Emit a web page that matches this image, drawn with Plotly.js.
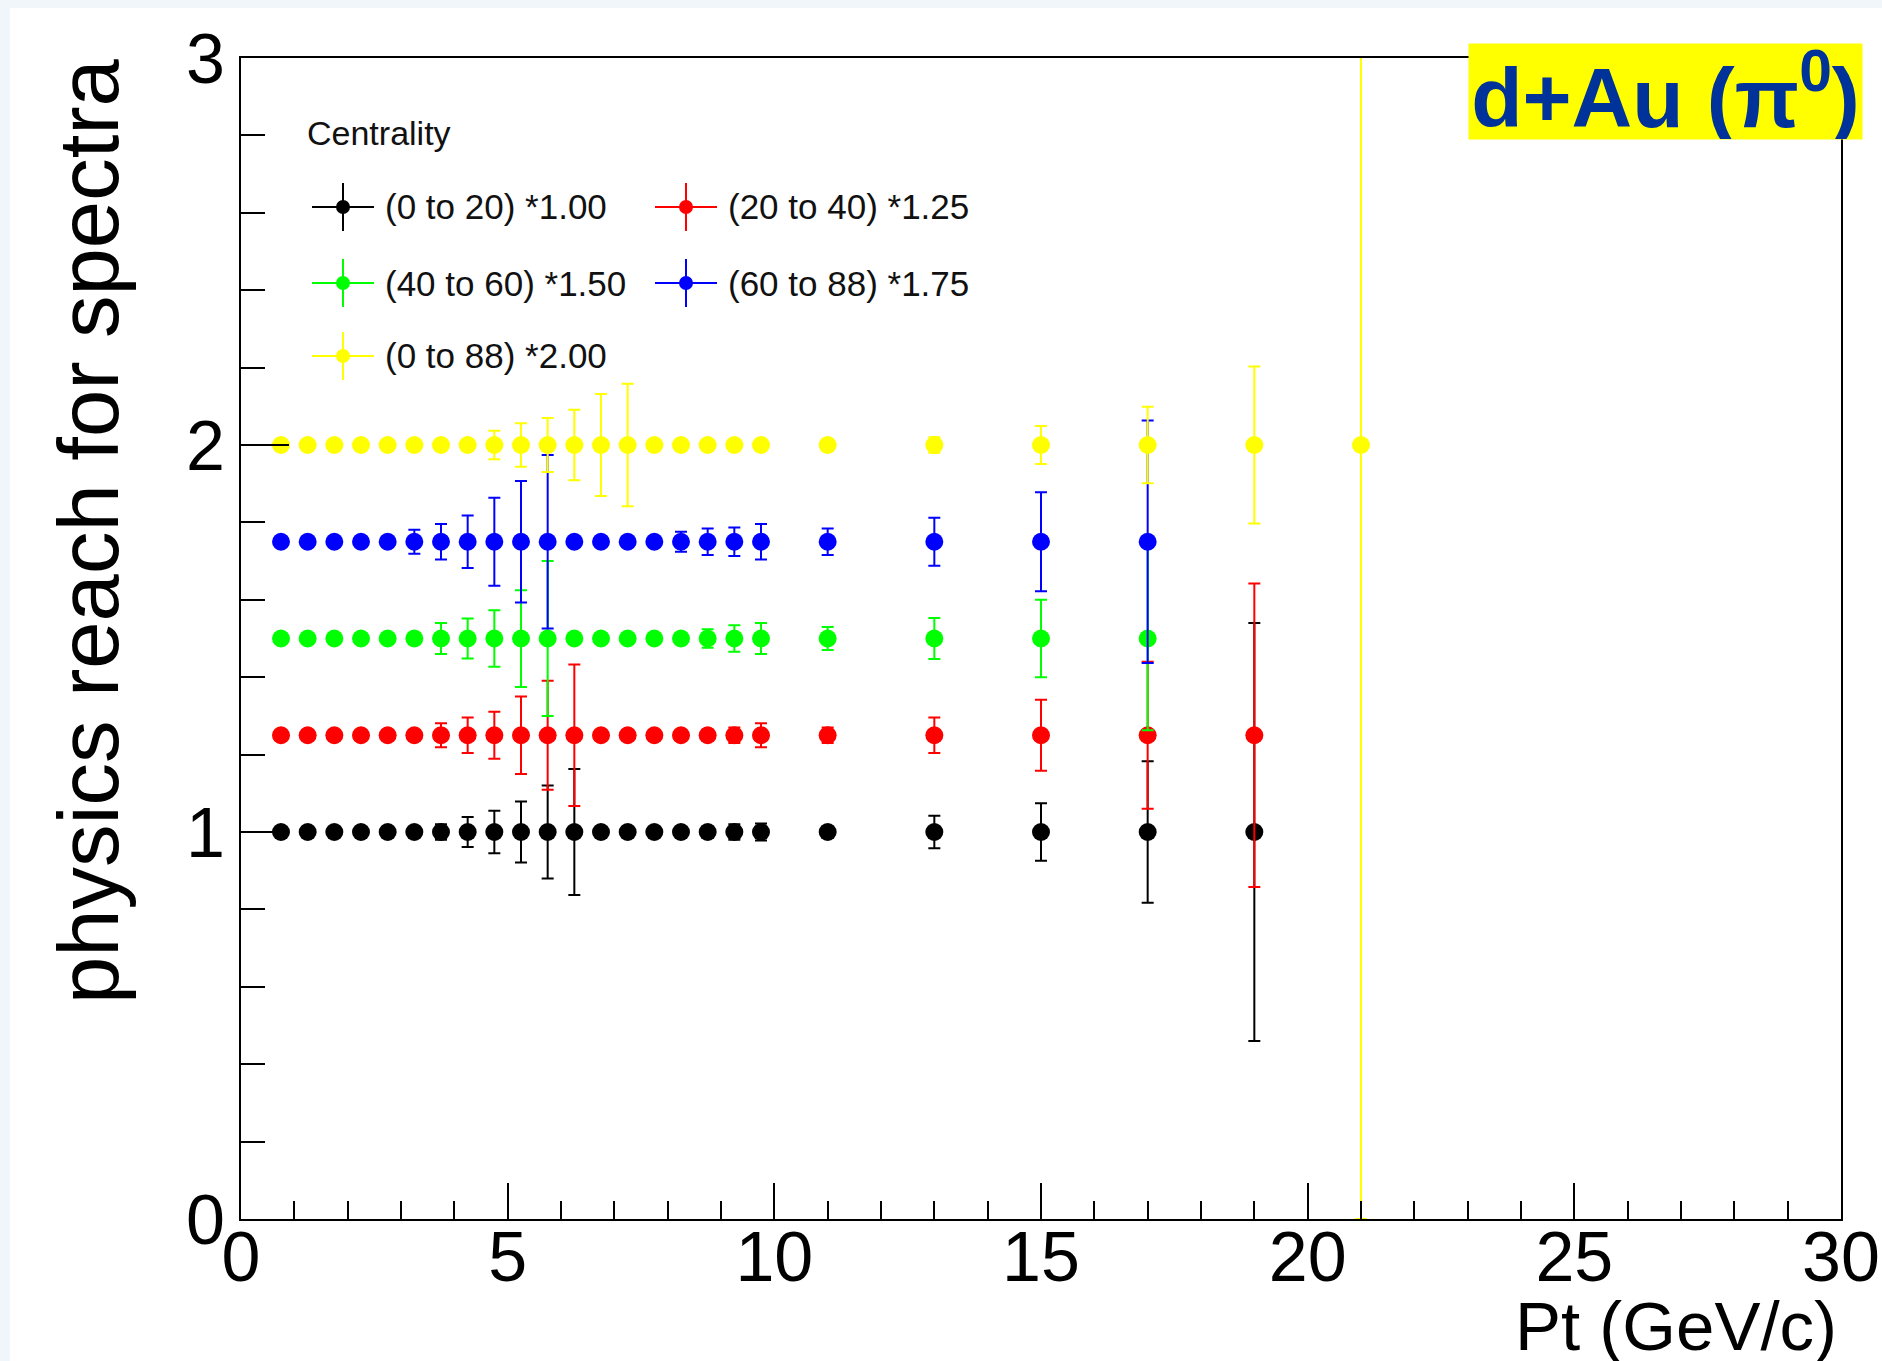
<!DOCTYPE html>
<html>
<head>
<meta charset="utf-8">
<script src="https://cdn.plot.ly/plotly-3.0.1.min.js"></script>
<style>
  html, body { margin: 0; padding: 0; background: #ffffff; }
  #chart { width: 1882px; height: 1361px; }
</style>
</head>
<body>
<div id="chart"></div>
<script>
// ---------------- DATA ----------------
const seriesNames = ["(0 to 20) *1.00", "(20 to 40) *1.25", "(40 to 60) *1.50", "(60 to 88) *1.75", "(0 to 88) *2.00"];
const seriesColors = ["#000000", "#ff0000", "#00ff00", "#0000ff", "#ffff00"];

const ptBlack  = [0.75,1.25,1.75,2.25,2.75,3.25,3.75,4.25,4.75,5.25,5.75,6.25,6.75,7.25,7.75,8.25,8.75,9.25,9.75,11,13,15,17,19];
const valBlack = [1,1,1,1,1,1,1,1,1,1,1,1,1,1,1,1,1,1,1,1,1,1,1,1];
const errBlack = [0.008,0.008,0.008,0.009,0.01,0.012,0.02,0.039,0.055,0.079,0.12,0.163,0.01,0.01,0.01,0.012,0.015,0.02,0.022,0.015,0.042,0.074,0.183,0.54];

const ptRed  = [0.75,1.25,1.75,2.25,2.75,3.25,3.75,4.25,4.75,5.25,5.75,6.25,6.75,7.25,7.75,8.25,8.75,9.25,9.75,11,13,15,17,19];
const valRed = [1.25,1.25,1.25,1.25,1.25,1.25,1.25,1.25,1.25,1.25,1.25,1.25,1.25,1.25,1.25,1.25,1.25,1.25,1.25,1.25,1.25,1.25,1.25,1.25];
const errRed = [0.01,0.01,0.01,0.01,0.01,0.012,0.031,0.046,0.061,0.10,0.141,0.183,0.01,0.01,0.01,0.01,0.015,0.02,0.031,0.02,0.046,0.092,0.19,0.392];

const ptGreen  = [0.75,1.25,1.75,2.25,2.75,3.25,3.75,4.25,4.75,5.25,5.75,6.25,6.75,7.25,7.75,8.25,8.75,9.25,9.75,11,13,15,17];
const valGreen = [1.5,1.5,1.5,1.5,1.5,1.5,1.5,1.5,1.5,1.5,1.5,1.5,1.5,1.5,1.5,1.5,1.5,1.5,1.5,1.5,1.5,1.5,1.5];
const errGreen = [0.01,0.01,0.01,0.01,0.01,0.015,0.04,0.052,0.073,0.125,0.2,0.01,0.01,0.01,0.01,0.015,0.024,0.034,0.04,0.03,0.053,0.10,0.237];

const ptBlue  = [0.75,1.25,1.75,2.25,2.75,3.25,3.75,4.25,4.75,5.25,5.75,6.25,6.75,7.25,7.75,8.25,8.75,9.25,9.75,11,13,15,17];
const valBlue = [1.75,1.75,1.75,1.75,1.75,1.75,1.75,1.75,1.75,1.75,1.75,1.75,1.75,1.75,1.75,1.75,1.75,1.75,1.75,1.75,1.75,1.75,1.75];
const errBlue = [0.01,0.01,0.01,0.01,0.01,0.031,0.046,0.068,0.114,0.157,0.224,0.01,0.01,0.01,0.01,0.026,0.034,0.037,0.046,0.034,0.062,0.128,0.313];

const ptYellow  = [0.75,1.25,1.75,2.25,2.75,3.25,3.75,4.25,4.75,5.25,5.75,6.25,6.75,7.25,7.75,8.25,8.75,9.25,9.75,11,13,15,17,19,21];
const valYellow = [2,2,2,2,2,2,2,2,2,2,2,2,2,2,2,2,2,2,2,2,2,2,2,2,2];
const errYellow = [0.01,0.01,0.01,0.01,0.01,0.01,0.01,0.015,0.037,0.056,0.07,0.091,0.132,0.158,0.01,0.01,0.01,0.01,0.01,0.015,0.02,0.049,0.099,0.203,2.0];

const xTickVals = [0, 5, 10, 15, 20, 25, 30];
const yTickVals = [0, 1, 2, 3];

const chartTitle = "<b>d+Au (π<sup>0</sup>)</b>";
const xTitle = "Pt (GeV/c)";
const yTitle = "physics reach for spectra";
const legendTitle = "Centrality";

// ---------------- GEOMETRY (pixels) ----------------
const W = 1882, H = 1361;
const PL = 241, PR = 1841, PT = 58, PB = 1219;
const px = x => (x - PL) / (PR - PL);
const py = y => (PB - y) / (PB - PT);

const FONT = '"Liberation Sans", Arial, Helvetica, sans-serif';

const xs = [ptBlack, ptRed, ptGreen, ptBlue, ptYellow];
const ys = [valBlack, valRed, valGreen, valBlue, valYellow];
const es = [errBlack, errRed, errGreen, errBlue, errYellow];

const traces = xs.map((x, i) => ({
  type: 'scatter',
  mode: 'markers',
  name: seriesNames[i],
  x: x,
  y: ys[i],
  error_y: { type: 'data', array: es[i], visible: true, color: seriesColors[i], thickness: 2, width: 6 },
  marker: { color: seriesColors[i], size: 18, line: { width: 0 } },
  showlegend: false,
  hoverinfo: 'x+y+name'
}));

// ---------------- manual ROOT-style legend ----------------
const legendCols = [343, 686, 343, 686, 343];
const legendRows = [207, 207, 283, 283, 356];
const shapes = [];
const annotations = [];

// light slide border
shapes.push({ type: 'rect', xref: 'paper', yref: 'paper', layer: 'below',
  x0: px(0), x1: px(10), y0: py(H), y1: py(0), fillcolor: '#f1f6fa', line: { width: 0 } });
shapes.push({ type: 'rect', xref: 'paper', yref: 'paper', layer: 'below',
  x0: px(0), x1: px(W), y0: py(8), y1: py(0), fillcolor: '#f1f6fa', line: { width: 0 } });

seriesNames.forEach((nm, i) => {
  const cx = legendCols[i], cy = legendRows[i], c = seriesColors[i];
  shapes.push({ type: 'line', xref: 'paper', yref: 'paper', x0: px(cx - 31), x1: px(cx + 31), y0: py(cy), y1: py(cy), line: { color: c, width: 2 } });
  shapes.push({ type: 'line', xref: 'paper', yref: 'paper', x0: px(cx), x1: px(cx), y0: py(cy - 24), y1: py(cy + 24), line: { color: c, width: 2 } });
  shapes.push({ type: 'circle', xref: 'paper', yref: 'paper', x0: px(cx - 7), x1: px(cx + 7), y0: py(cy + 7), y1: py(cy - 7), fillcolor: c, line: { color: c, width: 0 } });
  annotations.push({ xref: 'paper', yref: 'paper', x: px(cx + 40), y: py(cy), xanchor: 'left', yanchor: 'middle',
    text: nm, showarrow: false, font: { family: FONT, size: 35, color: '#111' } });
});

annotations.push({ xref: 'paper', yref: 'paper', x: px(305), y: py(133), xanchor: 'left', yanchor: 'middle',
  text: legendTitle, showarrow: false, font: { family: FONT, size: 34, color: '#111' } });

// chart label box
annotations.push({ xref: 'paper', yref: 'paper', x: px(1863), y: py(43), xanchor: 'right', yanchor: 'top',
  text: chartTitle, showarrow: false, bgcolor: '#ffff00', borderpad: 0, width: 393, height: 95,
  font: { family: FONT, size: 84, color: '#003399' } });

// axis titles
annotations.push({ xref: 'paper', yref: 'paper', x: px(1839), y: py(1326), xanchor: 'right', yanchor: 'middle',
  text: xTitle, showarrow: false, font: { family: FONT, size: 69, color: '#000' } });
annotations.push({ xref: 'paper', yref: 'paper', x: px(88), y: py(531), xanchor: 'center', yanchor: 'middle',
  text: yTitle, textangle: -90, showarrow: false, font: { family: FONT, size: 85, color: '#000' } });

const layout = {
  width: W, height: H,
  margin: { l: PL, r: W - PR, t: PT, b: H - PB, pad: 0 },
  paper_bgcolor: '#ffffff', plot_bgcolor: '#ffffff',
  showlegend: false,
  font: { family: FONT, color: '#000' },
  xaxis: {
    range: [0, 30], tickmode: 'array', tickvals: xTickVals,
    ticks: 'inside', ticklen: 36, tickwidth: 2, tickcolor: '#000',
    ticklabelstandoff: -24,
    showline: true, linecolor: '#000', linewidth: 2, mirror: true,
    showgrid: false, zeroline: false,
    tickfont: { family: FONT, size: 70, color: '#000' },
    minor: { dtick: 1, tick0: 0, ticks: 'inside', ticklen: 18, tickwidth: 2, tickcolor: '#000', showgrid: false }
  },
  yaxis: {
    range: [0, 3], tickmode: 'array', tickvals: yTickVals,
    ticks: 'inside', ticklen: 48, tickwidth: 2, tickcolor: '#000',
    showline: true, linecolor: '#000', linewidth: 2, mirror: true,
    showgrid: false, zeroline: false,
    tickfont: { family: FONT, size: 70, color: '#000' },
    minor: { dtick: 0.2, tick0: 0, ticks: 'inside', ticklen: 24, tickwidth: 2, tickcolor: '#000', showgrid: false }
  },
  shapes: shapes,
  annotations: annotations
};

Plotly.newPlot('chart', traces, layout, { displayModeBar: false, staticPlot: true });
</script>
</body>
</html>
